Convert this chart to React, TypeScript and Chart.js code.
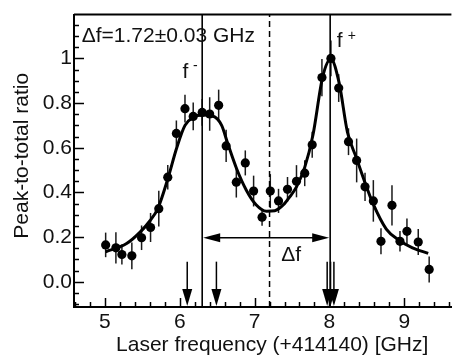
import React, { useEffect, useRef } from 'react';
import { Chart, registerables } from 'chart.js';

Chart.register(...registerables);

// ---- data ----
const freq = [5.01, 5.147, 5.227, 5.36, 5.49, 5.61, 5.72, 5.84, 5.955, 6.07, 6.18, 6.30, 6.40, 6.52, 6.62, 6.756, 6.876, 6.987, 7.10, 7.21, 7.32, 7.44, 7.56, 7.67, 7.77, 7.90, 8.02, 8.124, 8.255, 8.364, 8.476, 8.587, 8.689, 8.836, 8.943, 9.036, 9.187, 9.333];
const ratio = [0.165, 0.152, 0.122, 0.116, 0.197, 0.243, 0.327, 0.468, 0.664, 0.775, 0.74, 0.758, 0.751, 0.79, 0.608, 0.446, 0.532, 0.406, 0.289, 0.406, 0.362, 0.414, 0.45, 0.486, 0.613, 0.914, 1.0, 0.867, 0.627, 0.543, 0.425, 0.362, 0.181, 0.342, 0.181, 0.226, 0.178, 0.055];
const ratioErr = [0.055, 0.07, 0.045, 0.06, 0.055, 0.065, 0.08, 0.055, 0.058, 0.062, 0.062, 0.06, 0.075, 0.07, 0.072, 0.069, 0.056, 0.069, 0.038, 0.076, 0.054, 0.055, 0.072, 0.058, 0.058, 0.083, 0.08, 0.062, 0.06, 0.098, 0.063, 0.093, 0.058, 0.09, 0.046, 0.057, 0.058, 0.058];

const fitFreq = [5.01, 5.29, 5.47, 5.60, 5.71, 5.84, 5.96, 6.07, 6.18, 6.31, 6.44, 6.56, 6.64, 6.76, 6.89, 7.02, 7.16, 7.27, 7.40, 7.47, 7.56, 7.67, 7.78, 7.91, 8.02, 8.13, 8.24, 8.36, 8.48, 8.58, 8.76, 8.93, 9.11, 9.32];
const fitRatio = [0.134, 0.171, 0.222, 0.272, 0.33, 0.46, 0.60, 0.70, 0.736, 0.746, 0.742, 0.70, 0.62, 0.506, 0.41, 0.345, 0.316, 0.318, 0.35, 0.38, 0.425, 0.512, 0.657, 0.917, 0.997, 0.89, 0.671, 0.555, 0.44, 0.352, 0.236, 0.186, 0.152, 0.127];

const fMinus = 6.30;
const fPlus = 8.01;
const fMid = 7.20;
const arrowFreqs = [6.10, 6.49, 7.97, 8.015, 8.06];
const arrowTop = 0.09;
const deltaArrowY = 0.197;

const xTicks = [5, 6, 7, 8, 9];
const yTicks = [0, 0.2, 0.4, 0.6, 0.8, 1];
const X_MIN = 4.587, X_MAX = 9.63, Y_MIN = -0.113, Y_MAX = 1.196;

const fitText = 'Δf=1.72±0.03 GHz';
const xTitle = 'Laser frequency (+414140) [GHz]';
const yTitle = 'Peak-to-total ratio';

const FONT = '"Liberation Sans", Arial, Helvetica, sans-serif';
const INK = '#111';

const overlay = {
  id: 'overlay',
  beforeDatasetsDraw(chart: any) {
    const { ctx, scales: { x, y } } = chart;
    ctx.save();
    ctx.strokeStyle = '#1a1a1a';
    ctx.lineWidth = 1.5;
    freq.forEach((f, i) => {
      const px = x.getPixelForValue(f);
      ctx.beginPath();
      ctx.moveTo(px, y.getPixelForValue(ratio[i] - ratioErr[i]));
      ctx.lineTo(px, y.getPixelForValue(ratio[i] + ratioErr[i]));
      ctx.stroke();
    });
    ctx.restore();
  },
  afterDatasetsDraw(chart: any) {
    const { ctx, chartArea: ca, scales: { x, y } } = chart;
    ctx.save();
    ctx.strokeStyle = '#000';
    ctx.fillStyle = '#000';
    // top frame
    ctx.lineWidth = 2;
    ctx.beginPath();
    ctx.moveTo(ca.left, ca.top);
    ctx.lineTo(ca.right, ca.top);
    ctx.stroke();
    // inward ticks
    ctx.lineWidth = 1.5;
    for (let k = Math.ceil(Y_MIN / 0.05); k <= Math.floor(Y_MAX / 0.05); k++) {
      const py = Math.round(y.getPixelForValue(k * 0.05)) + 0.5;
      const len = k % 4 === 0 ? 10 : 5;
      ctx.beginPath();
      ctx.moveTo(ca.left, py);
      ctx.lineTo(ca.left + len, py);
      ctx.stroke();
    }
    for (let k = Math.ceil(X_MIN / 0.2); k <= Math.floor(X_MAX / 0.2); k++) {
      const px = Math.round(x.getPixelForValue(k * 0.2)) + 0.5;
      const len = k % 5 === 0 ? 9 : 5;
      ctx.beginPath();
      ctx.moveTo(px, ca.bottom);
      ctx.lineTo(px, ca.bottom - len);
      ctx.stroke();
    }
    // double arrow (Δf)
    const ay = y.getPixelForValue(deltaArrowY);
    const ax1 = x.getPixelForValue(fMinus);
    const ax2 = x.getPixelForValue(fPlus);
    const hl = 18, hw = 4.5;
    ctx.lineWidth = 1.6;
    ctx.beginPath();
    ctx.moveTo(ax1 + hl - 2, ay);
    ctx.lineTo(ax2 - hl + 2, ay);
    ctx.stroke();
    ctx.beginPath();
    ctx.moveTo(ax1 + 1, ay);
    ctx.lineTo(ax1 + hl, ay - hw);
    ctx.lineTo(ax1 + hl, ay + hw);
    ctx.closePath();
    ctx.fill();
    ctx.beginPath();
    ctx.moveTo(ax2 - 1, ay);
    ctx.lineTo(ax2 - hl, ay - hw);
    ctx.lineTo(ax2 - hl, ay + hw);
    ctx.closePath();
    ctx.fill();
    // downward arrows
    const tip = y.getPixelForValue(Y_MIN) - 1;
    const top = y.getPixelForValue(arrowTop);
    arrowFreqs.forEach((f) => {
      const px = x.getPixelForValue(f);
      ctx.lineWidth = 1.5;
      ctx.beginPath();
      ctx.moveTo(px, top);
      ctx.lineTo(px, tip - 15);
      ctx.stroke();
      ctx.beginPath();
      ctx.moveTo(px, tip);
      ctx.lineTo(px - 5, tip - 17);
      ctx.lineTo(px + 5, tip - 17);
      ctx.closePath();
      ctx.fill();
    });
    // texts
    ctx.fillStyle = INK;
    ctx.textBaseline = 'alphabetic';
    ctx.textAlign = 'left';
    ctx.font = `21px ${FONT}`;
    ctx.fillText(fitText, x.getPixelForValue(4.69), y.getPixelForValue(1.0726));
    // f- label
    const fmx = x.getPixelForValue(6.036);
    const fmy = y.getPixelForValue(0.91);
    ctx.fillText('f', fmx, fmy);
    const fpx = x.getPixelForValue(8.097);
    const fpy = y.getPixelForValue(1.051);
    ctx.fillText('f', fpx, fpy);
    ctx.fillText('Δf', x.getPixelForValue(7.356), y.getPixelForValue(0.0913));
    ctx.font = `14px ${FONT}`;
    ctx.fillText('-', fmx + 10.5, fmy - 8);
    ctx.fillText('+', fpx + 11, fpy - 7);
    // axis titles
    ctx.font = `21px ${FONT}`;
    ctx.textAlign = 'center';
    ctx.textBaseline = 'middle';
    ctx.fillText(xTitle, (ca.left + ca.right) / 2 + 9.5, ca.bottom + 38);
    ctx.translate(22, (ca.top + ca.bottom) / 2 - 5);
    ctx.rotate(-Math.PI / 2);
    ctx.fillText(yTitle, 0, 0);
    ctx.restore();
  },
};

export default function App() {
  const ref = useRef<HTMLCanvasElement>(null);
  useEffect(() => {
    document.body.style.margin = '0';
    const canvas = ref.current;
    if (!canvas) return;
    const chart = new Chart(canvas, {
      type: 'scatter',
      data: {
        datasets: [
          {
            label: 'data',
            data: freq.map((f, i) => ({ x: f, y: ratio[i] })),
            pointRadius: 4.6,
            pointBackgroundColor: '#000',
            pointBorderWidth: 0,
            showLine: false,
          },
          {
            label: 'fit',
            data: fitFreq.map((f, i) => ({ x: f, y: fitRatio[i] })),
            showLine: true,
            pointRadius: 0,
            borderColor: '#000',
            borderWidth: 3,
            cubicInterpolationMode: 'monotone',
          },
          {
            label: 'f-',
            data: [{ x: fMinus, y: Y_MIN }, { x: fMinus, y: Y_MAX }],
            showLine: true,
            pointRadius: 0,
            borderColor: '#000',
            borderWidth: 1.6,
          },
          {
            label: 'f+',
            data: [{ x: fPlus, y: Y_MIN }, { x: fPlus, y: Y_MAX }],
            showLine: true,
            pointRadius: 0,
            borderColor: '#000',
            borderWidth: 1.6,
          },
          {
            label: 'mid',
            data: [{ x: fMid, y: Y_MIN }, { x: fMid, y: Y_MAX }],
            showLine: true,
            pointRadius: 0,
            borderColor: '#000',
            borderWidth: 1.5,
            borderDash: [6, 4],
          },
        ] as any,
      },
      options: {
        responsive: false,
        animation: false,
        devicePixelRatio: 1,
        layout: { padding: { top: 6, right: 4, left: 0, bottom: 0 } },
        plugins: { legend: { display: false }, tooltip: { enabled: false } },
        scales: {
          x: {
            type: 'linear',
            min: X_MIN,
            max: X_MAX,
            afterBuildTicks: (s: any) => { s.ticks = xTicks.map((v) => ({ value: v })); },
            afterFit: (s: any) => { s.height = 54; },
            ticks: {
              font: { family: FONT, size: 21 },
              color: INK,
              padding: 3,
              maxRotation: 0,
              autoSkip: false,
              callback: (v: any) => String(v),
            },
            grid: { display: false, drawTicks: false },
            border: { display: true, color: '#000', width: 2 },
          },
          y: {
            type: 'linear',
            min: Y_MIN,
            max: Y_MAX,
            afterBuildTicks: (s: any) => { s.ticks = yTicks.map((v) => ({ value: v })); },
            afterFit: (s: any) => { s.width = 74; },
            ticks: {
              font: { family: FONT, size: 21 },
              color: INK,
              padding: 2,
              autoSkip: false,
              callback: (v: any) => (Math.abs(v - 1) < 1e-9 ? '1' : Number(v).toFixed(1)),
            },
            grid: { display: false, drawTicks: false },
            border: { display: true, color: '#000', width: 2 },
          },
        },
      } as any,
      plugins: [overlay],
    });
    return () => chart.destroy();
  }, []);
  return (
    <div style={{ width: 456, height: 361, background: '#fff' }}>
      <canvas ref={ref} width={456} height={361} style={{ display: 'block' }} />
    </div>
  );
}
